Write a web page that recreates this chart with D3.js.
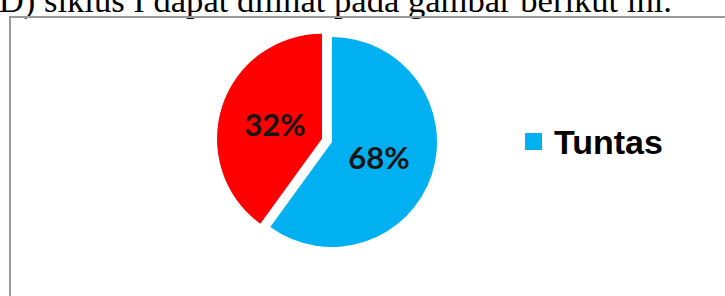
<!DOCTYPE html>
<html>
<head>
<meta charset="utf-8">
<script src="https://cdn.jsdelivr.net/npm/d3@7"></script>
<style>
  html, body { margin: 0; padding: 0; background: #fff; }
  svg { display: block; }
</style>
</head>
<body>
<div class="container"></div>
<script>
'use strict';

// data
var categories = ['Tuntas', 'Tidak Tuntas'];
var sliceValues = [60, 40];          // share of the circle as drawn
var sliceLabels = ['68%', '32%'];    // labels printed on the slices
var sliceColors = ['#00b0f0', '#ff0000'];
var legendItems = ['Tuntas'];
var captionText = 'D) siklus I dapat dilihat pada gambar berikut ini.';

var width = 725,
    height = 296,
    radius = 105,
    cx = 332,
    cy = 142,
    explode = 10.5;

var svg = d3.select('.container').append('svg')
  .attr('width', width)
  .attr('height', height);

//Cut-off line of document text above the chart.
svg.append('text')
  .attr('x', 672)
  .attr('y', 12)
  .attr('text-anchor', 'end')
  .style('font-family', '"Liberation Serif", "Times New Roman", serif')
  .style('font-size', '34.6px')
  .attr('fill', '#000')
  .text(captionText);

//Chart frame (only top and left edges are inside the crop).
svg.append('path')
  .attr('d', 'M10,' + (height + 2) + 'V17H' + (width + 2))
  .attr('fill', 'none')
  .attr('stroke', '#9a9a9a')
  .attr('stroke-width', 2);

var pie = d3.pie().sort(null).value(function(d) { return d; });
var arcs = pie(sliceValues);

var arc = d3.arc().innerRadius(0).outerRadius(radius);
var labelArc = d3.arc().innerRadius(radius * 0.47).outerRadius(radius * 0.47);

var g = svg.append('g').attr('transform', 'translate(' + cx + ',' + cy + ')');

var slice = g.selectAll('g.slice')
  .data(arcs)
  .enter().append('g')
  .attr('class', 'slice')
  .attr('transform', function(d, i) {
    // second slice is pulled out of the pie
    if (i === 0) return null;
    var mid = (d.startAngle + d.endAngle) / 2;
    return 'translate(' + (Math.sin(mid) * explode) + ',' + (-Math.cos(mid) * explode) + ')';
  });

slice.append('path')
  .attr('d', arc)
  .attr('fill', function(d, i) { return sliceColors[i]; });

slice.append('text')
  .attr('transform', function(d) { return 'translate(' + labelArc.centroid(d) + ')'; })
  .attr('text-anchor', 'middle')
  .attr('dominant-baseline', 'central')
  .style('font-family', 'Lato, "Open Sans", sans-serif')
  .style('font-weight', 700)
  .style('font-size', '31px')
  .attr('fill', '#161616')
  .text(function(d, i) { return sliceLabels[i]; });

//Legend.
var legend = svg.selectAll('g.legend')
  .data(legendItems)
  .enter().append('g')
  .attr('class', 'legend')
  .attr('transform', function(d, i) { return 'translate(525,' + (133 + i * 30) + ')'; });

legend.append('rect')
  .attr('width', 17)
  .attr('height', 17)
  .attr('fill', function(d) { return sliceColors[categories.indexOf(d)]; });

legend.append('text')
  .attr('x', 29)
  .attr('y', 9)
  .attr('dominant-baseline', 'central')
  .style('font-family', '"Liberation Sans", Arial, sans-serif')
  .style('font-weight', 700)
  .style('font-size', '34px')
  .attr('fill', '#000')
  .text(function(d) { return d; });
</script>
</body>
</html>
